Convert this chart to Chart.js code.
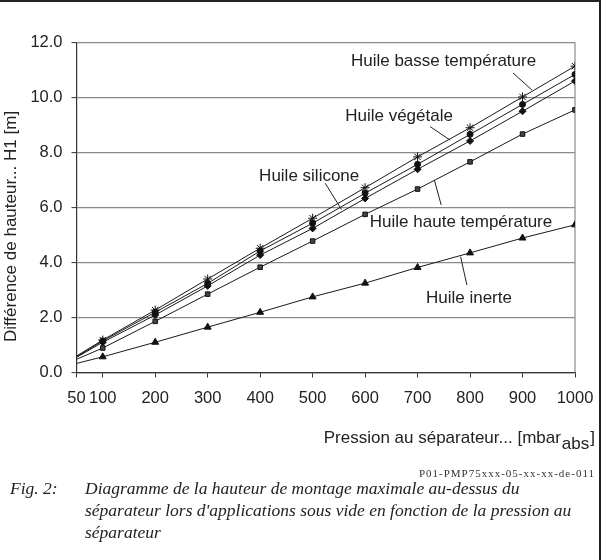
<!DOCTYPE html>
<html><head><meta charset="utf-8">
<script src="https://cdn.jsdelivr.net/npm/chart.js@4.4.1/dist/chart.umd.min.js"></script>
<style>
html,body{margin:0;padding:0;background:#fff;}
#wrap{position:relative;width:607px;height:560px;overflow:hidden;background:#fff;}
#cwrap{position:absolute;left:0;top:0;width:607px;height:560px;}
.frameTop{position:absolute;left:0;top:0;width:601px;height:2px;background:#222;}
.frameRight{position:absolute;left:599px;top:0;width:2px;height:560px;background:#222;}
#code{position:absolute;right:12px;top:467px;font:11px "Liberation Serif",serif;letter-spacing:1px;color:#333;white-space:nowrap;}
#figno{position:absolute;left:10px;top:477px;font:italic 17.5px/22px "Liberation Serif",serif;color:#222;}
#cap{position:absolute;left:85px;top:477px;font:italic 17.5px/22px "Liberation Serif",serif;color:#222;white-space:nowrap;}
</style></head>
<body>
<div id="wrap">
  <div id="cwrap"><canvas id="c"></canvas></div>
  <div class="frameTop"></div>
  <div class="frameRight"></div>
  <div id="code">P01-PMP75xxx-05-xx-xx-de-011</div>
  <div id="figno">Fig. 2:</div>
  <div id="cap">Diagramme de la hauteur de montage maximale au-dessus du<br>séparateur lors d'applications sous vide en fonction de la pression au<br>séparateur</div>
</div>
<script>
// ---- data ----
const pressure = [50, 100, 200, 300, 400, 500, 600, 700, 800, 900, 1000];
const xTicks = [50, 100, 200, 300, 400, 500, 600, 700, 800, 900, 1000];
const yTicks = [0, 2, 4, 6, 8, 10, 12];
const basseTemp = [0.60, 1.18, 2.27, 3.40, 4.52, 5.61, 6.72, 7.84, 8.90, 10.02, 11.14];
const vegetale  = [0.57, 1.15, 2.19, 3.24, 4.42, 5.43, 6.52, 7.57, 8.66, 9.75, 10.84];
const silicone  = [0.55, 1.10, 2.09, 3.15, 4.27, 5.24, 6.33, 7.39, 8.42, 9.50, 10.60];
const hauteTemp = [0.48, 0.89, 1.86, 2.85, 3.83, 4.78, 5.75, 6.67, 7.66, 8.67, 9.55];
const inerte    = [0.33, 0.57, 1.10, 1.65, 2.19, 2.75, 3.25, 3.82, 4.35, 4.89, 5.37];
const seriesNames = ['Huile basse température', 'Huile végétale', 'Huile silicone', 'Huile haute température', 'Huile inerte'];
const yTitle = 'Différence de hauteur... H1 [m]';
const xTitleMain = 'Pression au séparateur... [mbar';
const xTitleSub = 'abs';
const xTitleEnd = ']';
// label anchors (data units): text left/middle, leader from -> to
const labelAnchors = [
  {name: seriesNames[0], at: [573, 11.30], from: [882, 10.89], to: [918, 10.27]},
  {name: seriesNames[1], at: [562, 9.30],  from: [724, 8.94],  to: [762, 8.45]},
  {name: seriesNames[2], at: [398, 7.15],  from: [524, 6.88],  to: [555, 5.93]},
  {name: seriesNames[3], at: [609, 5.47],  from: [732, 7.00],  to: [745, 6.09]},
  {name: seriesNames[4], at: [716, 2.70],  from: [782, 4.21],  to: [794, 3.18]}
];

const FONT = '"Liberation Sans", Arial, sans-serif';
const pts = arr => pressure.map((p, i) => ({x: p, y: arr[i]}));
const hideFirst = r => ctx => ctx.dataIndex === 0 ? 0 : r;

function ds(label, arr, style, r, fill) {
  return {
    label, data: pts(arr), borderColor: '#1a1a1a', borderWidth: 1,
    pointStyle: style, pointRadius: hideFirst(r), pointHoverRadius: hideFirst(r),
    pointBackgroundColor: fill, pointBorderColor: '#111', pointBorderWidth: 1,
    tension: 0, fill: false
  };
}

const overlay = {
  id: 'overlay',
  beforeDatasetsDraw(chart) {
    const {ctx, chartArea: a} = chart;
    ctx.save();
    ctx.strokeStyle = '#8a8a8a'; ctx.lineWidth = 1.2;
    ctx.beginPath(); ctx.moveTo(a.right, a.top); ctx.lineTo(a.right, a.bottom); ctx.stroke();
    ctx.restore();
  },
  afterDraw(chart) {
    const {ctx} = chart;
    const xs = chart.scales.x, ys = chart.scales.y;
    ctx.save();
    ctx.fillStyle = '#222'; ctx.strokeStyle = '#222'; ctx.lineWidth = 1;
    ctx.font = '17px ' + FONT; ctx.textBaseline = 'middle'; ctx.textAlign = 'left';
    labelAnchors.forEach(l => {
      ctx.fillText(l.name, xs.getPixelForValue(l.at[0]), ys.getPixelForValue(l.at[1]));
      ctx.beginPath();
      ctx.moveTo(xs.getPixelForValue(l.from[0]), ys.getPixelForValue(l.from[1]));
      ctx.lineTo(xs.getPixelForValue(l.to[0]), ys.getPixelForValue(l.to[1]));
      ctx.stroke();
    });
    // y title
    ctx.save();
    ctx.translate(11, (ys.top + ys.bottom) / 2 + 19);
    ctx.rotate(-Math.PI / 2);
    ctx.textAlign = 'center';
    ctx.font = '17px ' + FONT;
    ctx.fillText(yTitle, 0, 0);
    ctx.restore();
    // x title with subscript, right-aligned
    ctx.font = '17px ' + FONT;
    const right = 595, base = xs.bottom + 26;
    const wEnd = ctx.measureText(xTitleEnd).width;
    const wSub = ctx.measureText(xTitleSub).width;
    ctx.textAlign = 'left';
    ctx.fillText(xTitleEnd, right - wEnd, base);
    ctx.fillText(xTitleSub, right - wEnd - wSub - 1, base + 6);
    ctx.textAlign = 'right';
    ctx.fillText(xTitleMain, right - wEnd - wSub - 2, base);
    ctx.restore();
  }
};

new Chart(document.getElementById('c'), {
  type: 'line',
  data: {
    datasets: [
      ds(seriesNames[0], basseTemp, 'star', 4.5, '#111'),
      ds(seriesNames[1], vegetale, 'circle', 3, '#111'),
      ds(seriesNames[2], silicone, 'rectRot', 3.5, '#111'),
      ds(seriesNames[3], hauteTemp, 'rect', 3.2, '#444'),
      ds(seriesNames[4], inerte, 'triangle', 4, '#111')
    ]
  },
  options: {
    responsive: true, maintainAspectRatio: false, animation: false,
    layout: {padding: {left: 0, top: 42.5, right: 32, bottom: 147.5}},
    plugins: {legend: {display: false}, tooltip: {enabled: false}},
    scales: {
      x: {
        type: 'linear', min: 50, max: 1000,
        afterFit: s => { s.height = 40; },
        afterBuildTicks: s => { s.ticks = xTicks.map(v => ({value: v})); },
        grid: {drawOnChartArea: false, drawTicks: true, tickLength: 5, tickColor: '#333', tickWidth: 1},
        border: {display: true, color: '#333', width: 1.2},
        ticks: {autoSkip: false, maxRotation: 0, padding: 11, color: '#222', font: {family: FONT, size: 16.5}, callback: v => String(v)}
      },
      y: {
        type: 'linear', min: 0, max: 12,
        afterFit: s => { s.width = 76.5; },
        afterBuildTicks: s => { s.ticks = yTicks.map(v => ({value: v})); },
        grid: {color: '#8a8a8a', lineWidth: 1.2, drawTicks: true, tickLength: 5, tickColor: '#333', tickWidth: 1},
        border: {display: true, color: '#333', width: 1.2},
        ticks: {padding: 9, color: '#222', font: {family: FONT, size: 16.5}, callback: v => v.toFixed(1)}
      }
    }
  },
  plugins: [overlay]
});
</script>
</body></html>
